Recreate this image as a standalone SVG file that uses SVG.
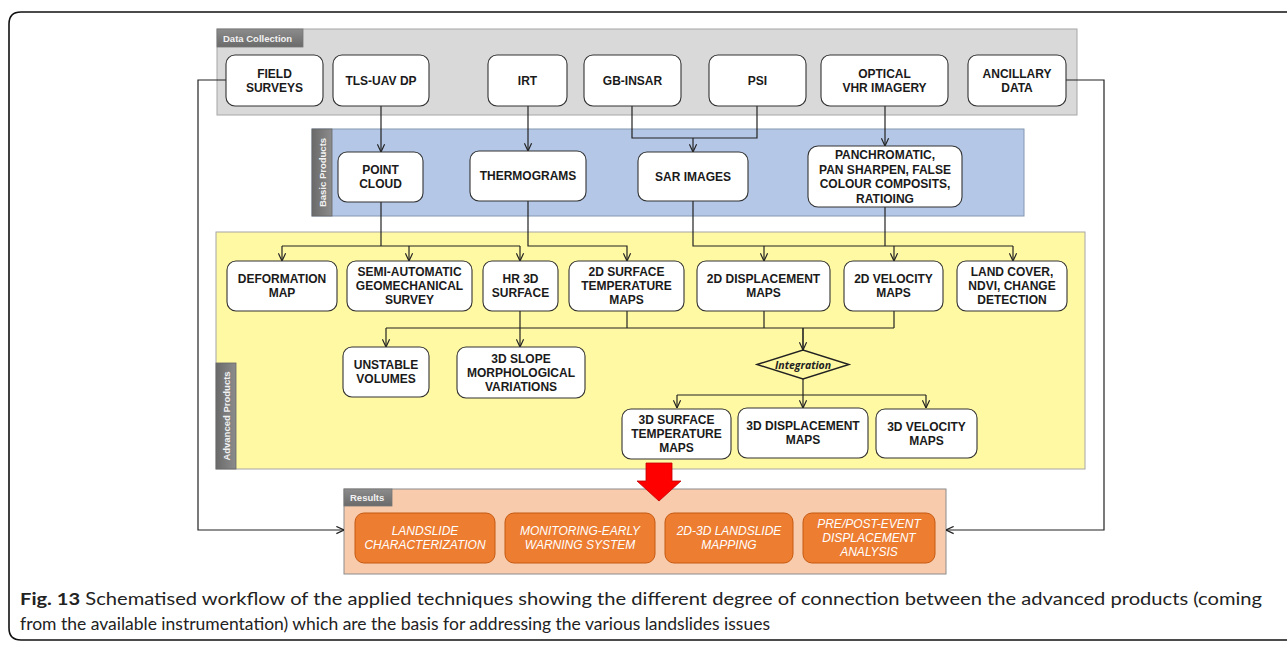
<svg xmlns="http://www.w3.org/2000/svg" width="1287" height="645" viewBox="0 0 1287 645">
<defs>
<marker id="ah" viewBox="0 0 10 10" refX="9.5" refY="5" markerWidth="9" markerHeight="9" orient="auto" markerUnits="userSpaceOnUse">
<path d="M1,1 L9.5,5 L1,9" fill="none" stroke="#222" stroke-width="1.3"/>
</marker>
<linearGradient id="tabg" x1="0" y1="0" x2="0" y2="1">
<stop offset="0" stop-color="#8c8c8c"/><stop offset="1" stop-color="#6a6a6a"/>
</linearGradient>
<linearGradient id="tabv" x1="0" y1="0" x2="1" y2="0">
<stop offset="0" stop-color="#6a6a6a"/><stop offset="1" stop-color="#8c8c8c"/>
</linearGradient>
</defs>
<style>
.node{fill:#fff;stroke:#333;stroke-width:1.1}
.t{font-family:"Liberation Sans",Arial,sans-serif;font-weight:bold;font-size:12px;fill:#1a1a1a;text-anchor:middle}
.res{fill:#ed7d31;stroke:#c55a11;stroke-width:1}
.rt{font-family:"Liberation Sans",Arial,sans-serif;font-style:italic;font-size:12px;fill:#fff;text-anchor:middle}
.tab{font-family:"Liberation Sans",Arial,sans-serif;font-weight:bold;font-size:9.5px;fill:#f2f2f2}
.c{fill:none;stroke:#222;stroke-width:1.2}
.ca{fill:none;stroke:#222;stroke-width:1.2;marker-end:url(#ah)}
.cap{font-family:Lato,"Noto Sans",sans-serif;font-size:17.5px;fill:#222}
</style>
<rect width="1287" height="645" fill="#fff"/>
<path d="M1292,12 H21 Q9,12 9,24 V628 Q9,640 21,640 H1292" fill="none" stroke="#111" stroke-width="1.6"/>

<g id="panel-data-collection">
<rect x="217" y="29" width="860" height="86" fill="#d9d9d9" stroke="#a6a6a6" stroke-width="1"/>
<rect x="217" y="29" width="86" height="18" fill="url(#tabg)" stroke="#777" stroke-width="0.8"/>
<text class="tab" x="223" y="41.5">Data Collection</text>
</g>
<g id="panel-basic-products">
<rect x="312" y="129" width="712" height="87" fill="#b4c7e7" stroke="#8497b0" stroke-width="1"/>
<rect x="312" y="129" width="20" height="87" fill="url(#tabv)" stroke="#666" stroke-width="0.8"/>
<text class="tab" x="0" y="0" text-anchor="middle" transform="translate(325.5,172.5) rotate(-90)">Basic Products</text>
</g>
<g id="panel-advanced-products">
<rect x="216" y="232" width="869" height="237" fill="#fff9a3" stroke="#a6a6a6" stroke-width="1"/>
<rect x="216" y="363" width="20" height="106" fill="url(#tabv)" stroke="#666" stroke-width="0.8"/>
<text class="tab" x="0" y="0" text-anchor="middle" transform="translate(229.5,416) rotate(-90)">Advanced Products</text>
</g>
<g id="panel-results">
<rect x="344" y="489" width="602" height="85" fill="#f8cbad" stroke="#8c8c8c" stroke-width="1"/>
<rect x="344" y="489" width="48" height="17" fill="url(#tabg)" stroke="#777" stroke-width="0.8"/>
<text class="tab" x="350" y="501">Results</text>
</g>

<g id="connectors">
<path class="ca" d="M226,80 H198 V530 H344"/>
<path class="ca" d="M1066,80 H1104 V530 H946"/>
<path class="ca" d="M381,106 V152"/>
<path class="ca" d="M528,106 V151"/>
<path class="c" d="M632,106 V138 H757 V106"/>
<path class="ca" d="M693,138 V152"/>
<path class="ca" d="M885,106 V146"/>
<path class="c" d="M381,202 V246"/>
<path class="c" d="M282,246 H520"/>
<path class="ca" d="M282,246 V261"/>
<path class="ca" d="M409,246 V261"/>
<path class="ca" d="M520,246 V261"/>
<path class="ca" d="M528,201 V246 H627 V261"/>
<path class="c" d="M693,201 V246 H1013"/>
<path class="ca" d="M1013,246 V261"/>
<path class="ca" d="M764,246 V261"/>
<path class="ca" d="M894,246 V261"/>
<path class="c" d="M885,207 V246"/>
<path class="ca" d="M520,311 V347"/>
<path class="c" d="M627,311 V328"/>
<path class="c" d="M764,311 V328"/>
<path class="c" d="M894,311 V328"/>
<path class="c" d="M386,328 H894"/>
<path class="ca" d="M386,328 V347"/>
<path class="ca" d="M803,328 V350" style="stroke-width:1.6"/>
<path class="c" d="M803,379 V395"/>
<path class="c" d="M677,395 H926"/>
<path class="ca" d="M677,395 V408"/>
<path class="ca" d="M803,395 V408"/>
<path class="ca" d="M926,395 V408"/>
<path d="M646,463 H672 V481 H681 L659,501 L637,481 H646 Z" fill="#ff0000" stroke="#c00000" stroke-width="0.8"/>
</g>

<g id="field-surveys"><rect class="node" x="226" y="55" width="97" height="51" rx="9"/><text class="t" x="274.5" y="77.8">FIELD</text><text class="t" x="274.5" y="91.8">SURVEYS</text></g>
<g id="tls-uav-dp"><rect class="node" x="333" y="55" width="96" height="51" rx="9"/><text class="t" x="381" y="84.8">TLS-UAV DP</text></g>
<g id="irt"><rect class="node" x="488" y="55" width="79" height="51" rx="9"/><text class="t" x="527.5" y="84.8">IRT</text></g>
<g id="gb-insar"><rect class="node" x="584" y="55" width="97" height="51" rx="9"/><text class="t" x="632.5" y="84.8">GB-INSAR</text></g>
<g id="psi"><rect class="node" x="709" y="55" width="97" height="51" rx="9"/><text class="t" x="757.5" y="84.8">PSI</text></g>
<g id="optical-vhr"><rect class="node" x="821" y="55" width="127" height="51" rx="9"/><text class="t" x="884.5" y="77.8">OPTICAL</text><text class="t" x="884.5" y="91.8">VHR IMAGERY</text></g>
<g id="ancillary-data"><rect class="node" x="968" y="55" width="98" height="51" rx="9"/><text class="t" x="1017" y="77.8">ANCILLARY</text><text class="t" x="1017" y="91.8">DATA</text></g>

<g id="point-cloud"><rect class="node" x="338" y="152" width="85" height="50" rx="9"/><text class="t" x="380.5" y="174.3">POINT</text><text class="t" x="380.5" y="188.3">CLOUD</text></g>
<g id="thermograms"><rect class="node" x="470" y="151" width="116" height="50" rx="9"/><text class="t" x="528" y="180.3">THERMOGRAMS</text></g>
<g id="sar-images"><rect class="node" x="638" y="152" width="110" height="49" rx="9"/><text class="t" x="693" y="180.8">SAR IMAGES</text></g>
<g id="panchromatic"><rect class="node" x="808" y="146" width="154" height="61" rx="10"/><text class="t" x="885" y="159.3">PANCHROMATIC,</text><text class="t" x="885" y="173.8">PAN SHARPEN, FALSE</text><text class="t" x="885" y="188.3">COLOUR COMPOSITS,</text><text class="t" x="885" y="202.8">RATIOING</text></g>

<g id="deformation-map"><rect class="node" x="227" y="261" width="110" height="50" rx="9"/><text class="t" x="282" y="283.3">DEFORMATION</text><text class="t" x="282" y="297.3">MAP</text></g>
<g id="semi-automatic"><rect class="node" x="347" y="261" width="125" height="50" rx="9"/><text class="t" x="409.5" y="276.3">SEMI-AUTOMATIC</text><text class="t" x="409.5" y="290.3">GEOMECHANICAL</text><text class="t" x="409.5" y="304.3">SURVEY</text></g>
<g id="hr-3d-surface"><rect class="node" x="483" y="261" width="75" height="50" rx="9"/><text class="t" x="520.5" y="283.3">HR 3D</text><text class="t" x="520.5" y="297.3">SURFACE</text></g>
<g id="2d-surface-temp"><rect class="node" x="569" y="261" width="115" height="50" rx="9"/><text class="t" x="626.5" y="276.3">2D SURFACE</text><text class="t" x="626.5" y="290.3">TEMPERATURE</text><text class="t" x="626.5" y="304.3">MAPS</text></g>
<g id="2d-displacement"><rect class="node" x="697" y="261" width="133" height="50" rx="9"/><text class="t" x="763.5" y="283.3">2D DISPLACEMENT</text><text class="t" x="763.5" y="297.3">MAPS</text></g>
<g id="2d-velocity"><rect class="node" x="844" y="261" width="99" height="50" rx="9"/><text class="t" x="893.5" y="283.3">2D VELOCITY</text><text class="t" x="893.5" y="297.3">MAPS</text></g>
<g id="land-cover"><rect class="node" x="957" y="261" width="110" height="50" rx="9"/><text class="t" x="1012" y="276.3">LAND COVER,</text><text class="t" x="1012" y="290.3">NDVI, CHANGE</text><text class="t" x="1012" y="304.3">DETECTION</text></g>

<g id="unstable-volumes"><rect class="node" x="343" y="347" width="86" height="50" rx="9"/><text class="t" x="386" y="369.3">UNSTABLE</text><text class="t" x="386" y="383.3">VOLUMES</text></g>
<g id="3d-slope"><rect class="node" x="457" y="347" width="128" height="51" rx="9"/><text class="t" x="521" y="362.8">3D SLOPE</text><text class="t" x="521" y="376.8">MORPHOLOGICAL</text><text class="t" x="521" y="390.8">VARIATIONS</text></g>

<g id="integration"><path d="M757,364.5 L803,350 L849,364.5 L803,379 Z" fill="#fff9a3" stroke="#222" stroke-width="1.4"/><text x="803" y="368.5" text-anchor="middle" style="font-family:'Open Sans','Noto Sans',sans-serif;font-style:italic;font-weight:bold;font-size:10.5px;fill:#222">Integration</text></g>

<g id="3d-surface-temp"><rect class="node" x="622" y="409" width="109" height="50" rx="9"/><text class="t" x="676.5" y="424.3">3D SURFACE</text><text class="t" x="676.5" y="438.3">TEMPERATURE</text><text class="t" x="676.5" y="452.3">MAPS</text></g>
<g id="3d-displacement"><rect class="node" x="738" y="408" width="130" height="50" rx="9"/><text class="t" x="803" y="430.3">3D DISPLACEMENT</text><text class="t" x="803" y="444.3">MAPS</text></g>
<g id="3d-velocity"><rect class="node" x="876" y="409" width="101" height="49" rx="9"/><text class="t" x="926.5" y="430.8">3D VELOCITY</text><text class="t" x="926.5" y="444.8">MAPS</text></g>

<g id="landslide-characterization"><rect class="res" x="355" y="513" width="140" height="50" rx="9"/><text class="rt" x="425" y="535.3">LANDSLIDE</text><text class="rt" x="425" y="549.3">CHARACTERIZATION</text></g>
<g id="monitoring"><rect class="res" x="505" y="513" width="150" height="50" rx="9"/><text class="rt" x="580" y="535.3">MONITORING-EARLY</text><text class="rt" x="580" y="549.3">WARNING SYSTEM</text></g>
<g id="landslide-mapping"><rect class="res" x="665" y="513" width="128" height="50" rx="9"/><text class="rt" x="729" y="535.3">2D-3D LANDSLIDE</text><text class="rt" x="729" y="549.3">MAPPING</text></g>
<g id="displacement-analysis"><rect class="res" x="803" y="513" width="132" height="50" rx="9"/><text class="rt" x="869" y="528.3">PRE/POST-EVENT</text><text class="rt" x="869" y="542.3">DISPLACEMENT</text><text class="rt" x="869" y="556.3">ANALYSIS</text></g>

<g id="caption">
<text class="cap" x="20" y="605" textLength="1242" lengthAdjust="spacingAndGlyphs"><tspan font-weight="bold">Fig. 13</tspan> Schematised workflow of the applied techniques showing the different degree of connection between the advanced products (coming</text>
<text class="cap" x="20" y="630" textLength="750" lengthAdjust="spacingAndGlyphs">from the available instrumentation) which are the basis for addressing the various landslides issues</text>
</g>
</svg>
